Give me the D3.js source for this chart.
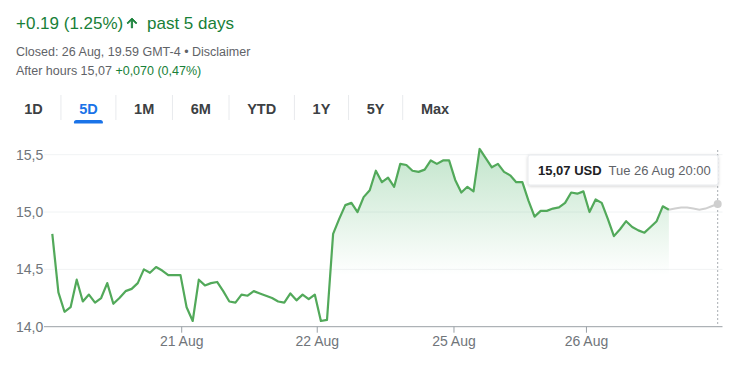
<!DOCTYPE html>
<html>
<head>
<meta charset="utf-8">
<script src="https://cdn.jsdelivr.net/npm/d3@7"></script>
<style>
  body { margin: 0; background: #fff; }
  svg { display: block; font-family: "Liberation Sans", Arial, sans-serif; }
</style>
</head>
<body>
<svg id="chart" width="750" height="375"></svg>
<script>
// regular session prices (green), one point per step
const regular = [
  14.81, 14.30, 14.13, 14.17, 14.41, 14.22, 14.28, 14.21, 14.25, 14.38,
  14.20, 14.25, 14.31, 14.33, 14.38, 14.50, 14.47, 14.52, 14.49, 14.45,
  14.45, 14.45, 14.17, 14.05, 14.41, 14.36, 14.38, 14.39, 14.31, 14.22,
  14.21, 14.28, 14.27, 14.31, 14.29, 14.27, 14.25, 14.22, 14.21, 14.29,
  14.23, 14.28, 14.24, 14.28, 14.05, 14.06, 14.81, 14.94, 15.06, 15.08,
  15.00, 15.13, 15.19, 15.36, 15.26, 15.30, 15.22, 15.42, 15.41, 15.36,
  15.35, 15.37, 15.45, 15.42, 15.45, 15.45, 15.28, 15.17, 15.22, 15.18,
  15.55, 15.47, 15.39, 15.42, 15.35, 15.32, 15.26, 15.26, 15.10, 14.96,
  15.01, 15.01, 15.03, 15.04, 15.08, 15.17, 15.16, 15.18, 15.00, 15.11,
  15.08, 14.94, 14.79, 14.85, 14.92, 14.87, 14.84, 14.82, 14.87, 14.92,
  15.05, 15.02
];
// after hours prices (grey)
const afterHours = [15.03, 15.04, 15.04, 15.03, 15.02, 15.03, 15.05, 15.07];

const yTicks = [14.0, 14.5, 15.0, 15.5];
const dayLabels = ["21 Aug", "22 Aug", "25 Aug", "26 Aug"];
const dayIndex = [21.2, 43.4, 65.8, 87.5];
const tabs = ["1D", "5D", "1M", "6M", "YTD", "1Y", "5Y", "Max"];
const activeTab = "5D";

const svg = d3.select('#chart');
const green = '#188038';
const grey = '#5f6368';

// header
svg.append('text').attr('x', 16).attr('y', 29)
    .attr('font-size', 17).attr('fill', green)
    .text('+0.19 (1.25%)');
svg.append('path')
    .attr('d', 'M4 12l1.41 1.41L11 7.83V20h2V7.83l5.58 5.59L20 12l-8-8-8 8z')
    .attr('transform', 'translate(124.5,15.5) scale(0.62)')
    .attr('fill', green)
    .attr('stroke', green)
    .attr('stroke-width', 1.4);
svg.append('text').attr('x', 147).attr('y', 29)
    .attr('font-size', 17).attr('fill', green).text('past 5 days');

svg.append('text').attr('x', 16).attr('y', 56)
    .attr('font-size', 12.5).attr('fill', grey)
    .text('Closed: 26 Aug, 19.59 GMT-4 \u2022 Disclaimer');

const ah = svg.append('text').attr('x', 16).attr('y', 75)
    .attr('font-size', 12.5).attr('fill', grey);
ah.append('tspan').text('After hours 15,07 ');
ah.append('tspan').attr('fill', green).text('+0,070 (0,47%)');

// range tabs, laid out by measured width
let tx = 6;
tabs.forEach((t, i) => {
    const label = svg.append('text')
        .attr('y', 114)
        .attr('font-size', 14.5)
        .attr('font-weight', 'bold')
        .attr('fill', t === activeTab ? '#1a73e8' : '#3c4043')
        .attr('text-anchor', 'middle')
        .text(t);
    const w = label.node().getComputedTextLength();
    const cx = tx + 18.2 + w / 2;
    label.attr('x', cx);
    if (t === activeTab) {
        svg.append('rect')
            .attr('x', cx - 14.5).attr('y', 120)
            .attr('width', 29).attr('height', 5)
            .attr('rx', 2.5)
            .attr('fill', '#1a73e8');
        svg.append('rect')
            .attr('x', cx - 15).attr('y', 123.5)
            .attr('width', 30).attr('height', 3)
            .attr('fill', '#fff');
    }
    tx += w + 36.4;
    if (i < tabs.length - 1) {
        svg.append('line')
            .attr('x1', tx).attr('x2', tx)
            .attr('y1', 95).attr('y2', 120)
            .attr('stroke', '#e8eaed');
    }
});

// chart
const left = 44, right = 722.5;
const total = regular.length + afterHours.length;
const x = d3.scaleLinear().domain([0, total - 1]).range([52.3, 717.7]);
const y = d3.scaleLinear().domain([14, 15.5]).range([326.7, 154.7]);

const defs = svg.append('defs');
const grad = defs.append('linearGradient')
    .attr('id', 'fillGrad')
    .attr('gradientUnits', 'userSpaceOnUse')
    .attr('x1', 0).attr('x2', 0)
    .attr('y1', y(15.55)).attr('y2', y(14.45));
grad.append('stop').attr('offset', 0).attr('stop-color', '#34a853').attr('stop-opacity', 0.3);
grad.append('stop').attr('offset', 1).attr('stop-color', '#34a853').attr('stop-opacity', 0);

// gridlines
svg.append('g').selectAll('line')
    .data(yTicks.slice(1))
    .enter().append('line')
    .attr('x1', left).attr('x2', right)
    .attr('y1', d => y(d)).attr('y2', d => y(d))
    .attr('stroke', '#f1f3f4');

// y labels
svg.append('g').selectAll('text')
    .data(yTicks)
    .enter().append('text')
    .attr('x', 16)
    .attr('y', d => y(d) + 5)
    .attr('font-size', 14)
    .attr('fill', '#70757a')
    .text(d => d.toFixed(1).replace('.', ','));

// area + line
const area = d3.area()
    .x((d, i) => x(i))
    .y0(y(14))
    .y1(d => y(d));
svg.append('path')
    .datum(regular)
    .attr('d', area)
    .attr('fill', 'url(#fillGrad)');

const line = d3.line()
    .x(d => x(d[0]))
    .y(d => y(d[1]));

const ahPts = [[regular.length - 1, regular[regular.length - 1]]]
    .concat(afterHours.map((v, i) => [regular.length + i, v]));
svg.append('path')
    .datum(ahPts)
    .attr('d', line)
    .attr('fill', 'none')
    .attr('stroke', '#d0d0d0')
    .attr('stroke-width', 2);

svg.append('path')
    .datum(regular.map((v, i) => [i, v]))
    .attr('d', line)
    .attr('fill', 'none')
    .attr('stroke', '#52a95a')
    .attr('stroke-width', 2.2)
    .attr('stroke-linejoin', 'round');

// x axis
svg.append('line')
    .attr('x1', left).attr('x2', right)
    .attr('y1', y(14)).attr('y2', y(14))
    .attr('stroke', '#9aa0a6');
const ticks = svg.append('g').selectAll('g')
    .data(dayLabels)
    .enter().append('g')
    .attr('transform', (d, i) => `translate(${x(dayIndex[i])},${y(14)})`);
ticks.append('line').attr('y2', 6).attr('stroke', '#9aa0a6');
ticks.append('text')
    .attr('y', 19.5)
    .attr('text-anchor', 'middle')
    .attr('font-size', 14)
    .attr('fill', '#70757a')
    .text(d => d);

// hover marker and tooltip
const lastI = total - 1;
const lastV = afterHours[afterHours.length - 1];
svg.append('line')
    .attr('x1', x(lastI)).attr('x2', x(lastI))
    .attr('y1', 150).attr('y2', y(14))
    .attr('stroke', '#a8adb2')
    .attr('stroke-dasharray', '2,2');
svg.append('circle')
    .attr('cx', x(lastI)).attr('cy', y(lastV))
    .attr('r', 4)
    .attr('fill', '#cfcfcf');

const shadow = defs.append('filter').attr('id', 'shadow')
    .attr('x', '-10%').attr('y', '-30%').attr('width', '120%').attr('height', '170%');
shadow.append('feDropShadow')
    .attr('dx', 0).attr('dy', 1).attr('stdDeviation', 1.5)
    .attr('flood-color', '#000').attr('flood-opacity', 0.18);

svg.append('rect')
    .attr('x', 528).attr('y', 155)
    .attr('width', 190).attr('height', 30)
    .attr('rx', 2)
    .attr('fill', '#fff')
    .attr('stroke', '#e8eaed')
    .attr('filter', 'url(#shadow)');
const tip = svg.append('text').attr('x', 538).attr('y', 174.5).attr('font-size', 13);
tip.append('tspan').attr('font-weight', 'bold').attr('fill', '#202124')
    .text(lastV.toFixed(2).replace('.', ',') + ' USD');
tip.append('tspan').attr('dx', 7).attr('fill', '#5f6368').text('Tue 26 Aug 20:00');
</script>
</body>
</html>
